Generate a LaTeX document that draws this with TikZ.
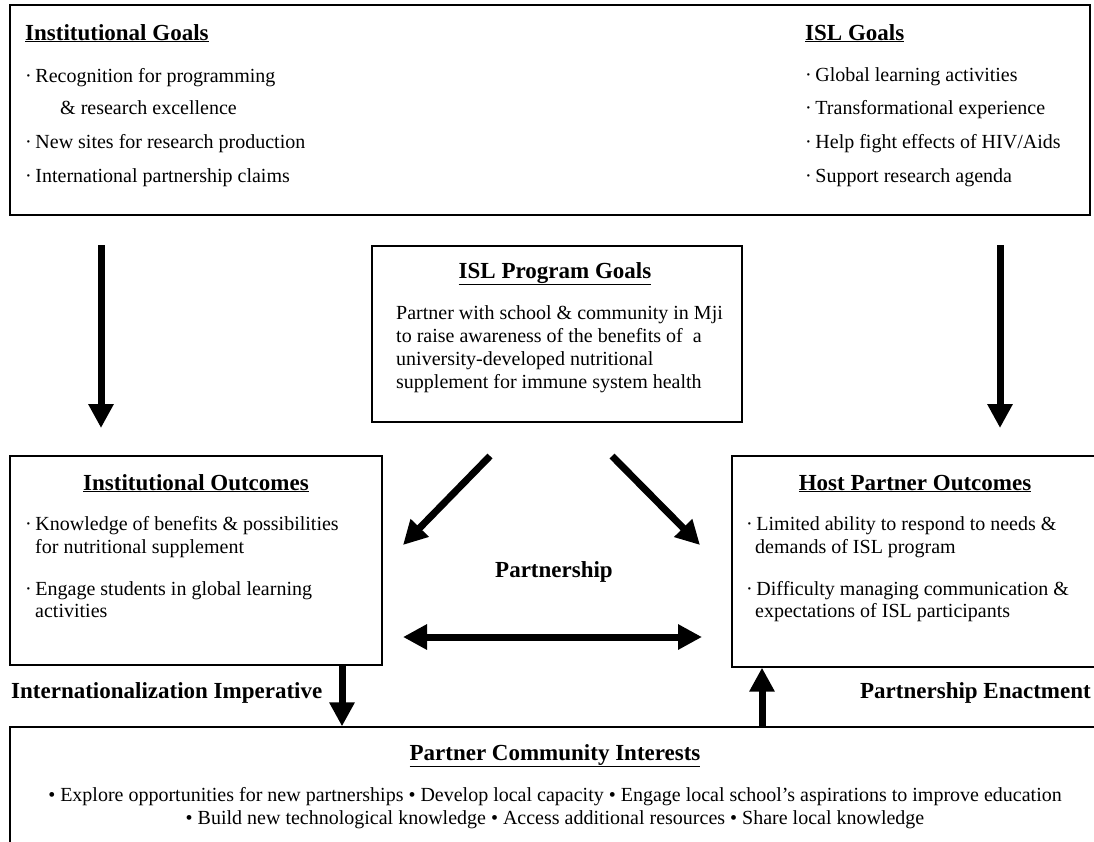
\documentclass[tikz,border=0pt]{standalone}
\usepackage{fontspec}
\setmainfont{Liberation Serif}
\usetikzlibrary{arrows.meta}

\newcommand{\dotitem}{·\hspace{0.18em}}

\tikzset{
    box/.style={draw, line width=1.3pt, inner sep=0pt},
    boxtitle/.style={font=\fontsize{23}{27}\selectfont\bfseries, anchor=base, inner sep=0pt},
    bullet/.style={font=\fontsize{20}{23}\selectfont, anchor=base west, inner sep=0pt},
    textblock/.style={font=\fontsize{20}{23.3}\selectfont, anchor=north west, inner sep=0pt, align=left},
    bigarrow/.style={line width=7pt, -{Triangle[width=24pt,length=24pt]}},
    twoway/.style={line width=7pt, {Triangle[width=24pt,length=24pt]}-{Triangle[width=24pt,length=24pt]}},
}

\begin{document}
\begin{tikzpicture}[x=1pt, y=-1pt]
    \useasboundingbox (0,0) rectangle (1094,841);

    % Boxes
    \node[box, minimum width=1080pt, minimum height=210pt] (goals) at (550,110) {};
    \node[box, minimum width=370pt, minimum height=176pt] (program) at (557,334) {};
    \node[box, minimum width=372pt, minimum height=209pt] (instout) at (196,560.5) {};
    \node[box, minimum width=372pt, minimum height=211pt] (hostout) at (918,561.5) {};
    \node[box, minimum width=1100pt, minimum height=140pt] (community) at (560,797) {};

    % Institutional goals
    \node[boxtitle, anchor=base west] (igtitle) at (25,40) {\underline{Institutional Goals}};
    \node[bullet] (ig1) at (25,82) {\dotitem Recognition for programming};
    \node[bullet] (ig1b) at (60,114) {\& research excellence};
    \node[bullet] (ig2) at (25,148) {\dotitem New sites for research production};
    \node[bullet] (ig3) at (25,182) {\dotitem International partnership claims};

    % ISL goals
    \node[boxtitle, anchor=base west] (sgtitle) at (805,40) {\underline{ISL Goals}};
    \node[bullet] (sg1) at (805,81) {\dotitem Global learning activities};
    \node[bullet] (sg2) at (805,114) {\dotitem Transformational experience};
    \node[bullet] (sg3) at (805,148) {\dotitem Help fight effects of HIV/Aids};
    \node[bullet] (sg4) at (805,182) {\dotitem Support research agenda};

    % Program goals
    \node[boxtitle] (pgtitle) at (555,278) {\underline{ISL Program Goals}};
    \node[textblock] (pgtext) at (396,305) {Partner with school \& community in Mji\\
        to raise awareness of the benefits of\ \ a\\
        university-developed nutritional\\
        supplement for immune system health};

    % Institutional outcomes
    \node[boxtitle] (iotitle) at (196,490) {\underline{Institutional Outcomes}};
    \node[bullet] (io1) at (25,530) {\dotitem Knowledge of benefits \& possibilities};
    \node[bullet] (io1b) at (35,553) {for nutritional supplement};
    \node[bullet] (io2) at (25,595) {\dotitem Engage students in global learning};
    \node[bullet] (io2b) at (35,617) {activities};

    % Host partner outcomes
    \node[boxtitle] (hotitle) at (915,490) {\underline{Host Partner Outcomes}};
    \node[bullet] (ho1) at (746,530) {\dotitem Limited ability to respond to needs \&};
    \node[bullet] (ho1b) at (755,553) {demands of ISL program};
    \node[bullet] (ho2) at (746,595) {\dotitem Difficulty managing communication \&};
    \node[bullet] (ho2b) at (755,617) {expectations of ISL participants};

    % Partner community
    \node[boxtitle] (cititle) at (555,760) {\underline{Partner Community Interests}};
    \node[bullet, anchor=base] (ci1) at (555,801) {• Explore opportunities for new partnerships • Develop local capacity • Engage local school’s aspirations to improve education};
    \node[bullet, anchor=base] (ci2) at (555,824) {• Build new technological knowledge • Access additional resources • Share local knowledge};

    % Side labels
    \node[boxtitle, anchor=base west] (imperative) at (11,698) {Internationalization Imperative};
    \node[boxtitle, anchor=base east] (enactment) at (1091,698) {Partnership Enactment};
    \node[boxtitle] (partnership) at (554,577) {Partnership};

    % Arrow ends
    \coordinate (ldtop) at (101,245);
    \coordinate (ldend) at (101,428);
    \coordinate (rdtop) at (1000,245);
    \coordinate (rdend) at (1000,428);
    \coordinate (dlstart) at (490,456);
    \coordinate (dlend) at (403,545);
    \coordinate (drstart) at (612,456);
    \coordinate (drend) at (700,545);
    \coordinate (pleft) at (403,637);
    \coordinate (pright) at (702,637);
    \coordinate (imp) at (342,0);
    \coordinate (enact) at (762,0);

    % Arrows
    \draw[bigarrow] (ldtop) -- (ldend);
    \draw[bigarrow] (rdtop) -- (rdend);
    \draw[bigarrow] (dlstart) -- (dlend);
    \draw[bigarrow] (drstart) -- (drend);
    \draw[twoway] (pleft) -- (pright);
    \draw[bigarrow] (instout.south -| imp) -- (community.north -| imp);
    \draw[bigarrow] (community.north -| enact) -- (hostout.south -| enact);

\end{tikzpicture}
\end{document}
